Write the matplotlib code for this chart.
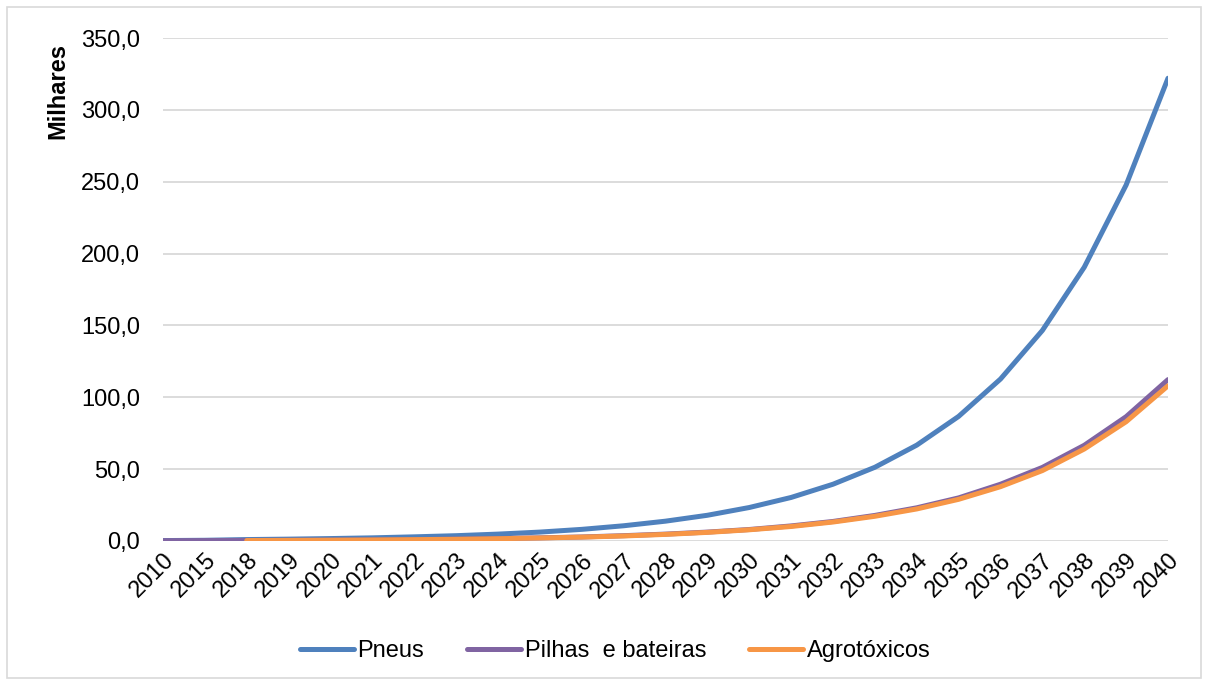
import matplotlib
matplotlib.use("Agg")
import matplotlib.pyplot as plt
from matplotlib.patches import Rectangle
from matplotlib.ticker import FuncFormatter, MultipleLocator

# dados (milhares)
anos = ['2010', '2015', '2018', '2019', '2020', '2021', '2022', '2023', '2024',
        '2025', '2026', '2027', '2028', '2029', '2030', '2031', '2032', '2033',
        '2034', '2035', '2036', '2037', '2038', '2039', '2040']
pneus = [0.3, 0.5, 1.0, 1.3, 1.7, 2.2, 2.9, 3.7, 4.8, 6.2, 8.1, 10.6, 13.8, 17.9,
         23.3, 30.3, 39.5, 51.3, 66.7, 86.7, 112.7, 146.5, 190.5, 247.7, 322.0]
pilhas = [0.2, 0.3, 0.4, 0.5, 0.6, 0.8, 1.0, 1.3, 1.7, 2.2, 2.8, 3.7, 4.8, 6.2,
          8.0, 10.5, 13.6, 17.8, 23.1, 30.0, 39.5, 51.2, 66.6, 86.5, 112.3]
agro = [None, None, 0.33, 0.43, 0.56, 0.73, 0.95, 1.2, 1.6, 2.1, 2.7, 3.5, 4.6,
        6.0, 7.8, 10.1, 13.2, 17.2, 22.3, 29.0, 37.8, 49.0, 64.0, 83.0, 108.0]

plt.rcParams['font.family'] = ['Liberation Sans', 'DejaVu Sans']
fs = 17

fig = plt.figure(figsize=(12.08, 6.82), dpi=100)
ax = fig.add_axes([163/1208, 1 - 541/682, (1168 - 163)/1208, (541 - 38)/682])

x = list(range(len(anos)))
ax.plot(x, pneus, color='#4f81bd', lw=3.6, label='Pneus', solid_capstyle='round')
ax.plot(x, pilhas, color='#8064a2', lw=3.6, label='Pilhas  e bateiras', solid_capstyle='round')
agro_vals = [v if v is not None else float('nan') for v in agro]
ax.plot(x, agro_vals, color='#f79646', lw=3.6, label='Agrotóxicos', solid_capstyle='round')

ax.set_xlim(0, len(anos) - 1)
ax.set_ylim(0, 350)
ax.yaxis.set_major_locator(MultipleLocator(50))
ax.yaxis.set_major_formatter(FuncFormatter(lambda v, p: f'{v:.1f}'.replace('.', ',')))
ax.set_xticks(x)
ax.set_xticklabels(anos, rotation=45, ha='right', va='top', rotation_mode='anchor')
ax.tick_params(axis='both', length=0, labelsize=fs, colors='black')
ax.tick_params(axis='x', pad=6)
ax.tick_params(axis='y', pad=16.5)
ax.grid(axis='y', color='#d9d9d9', lw=1.3)
ax.set_axisbelow(True)
for s in ax.spines.values():
    s.set_visible(False)

fig.text(58/1208, 1 - 43/682, 'Milhares', rotation=90, ha='center', va='top',
         fontsize=17, fontweight='bold')

ax.legend(loc='center', bbox_to_anchor=(615/1208, (682 - 651)/682), bbox_transform=fig.transFigure,
          ncol=3, frameon=False, fontsize=fs, handlelength=2.3, columnspacing=1.8,
          handletextpad=0.15)

fig.patches.append(Rectangle((7/1208, 4/682), 1194/1208, 671/682, transform=fig.transFigure,
                             fill=False, edgecolor='#d9d9d9', lw=1.2))

plt.savefig('out.png', dpi=100)
